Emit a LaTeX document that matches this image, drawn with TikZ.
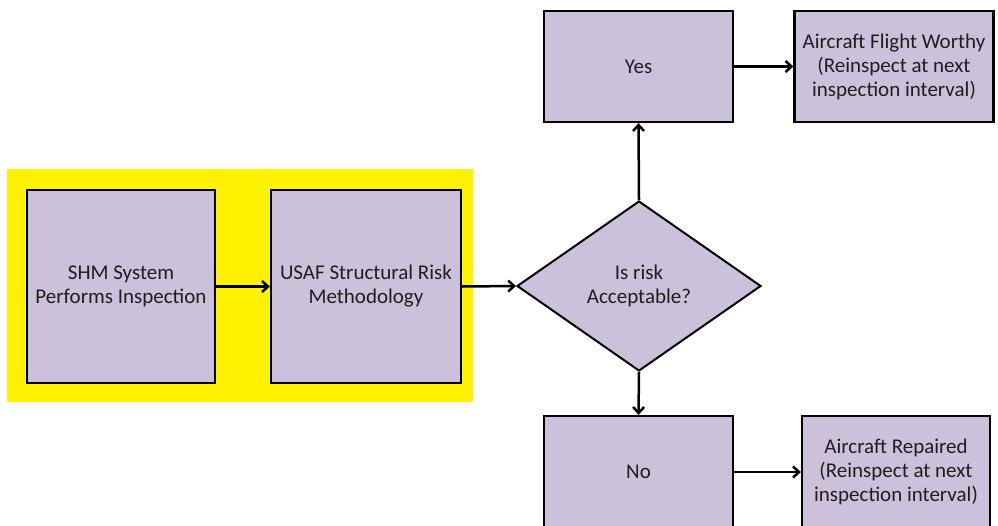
\documentclass[tikz,border=0pt]{standalone}
\usepackage{fontspec}
\setmainfont{Carlito}
\usetikzlibrary{shapes.geometric,arrows.meta}
\definecolor{boxfill}{RGB}{204,193,218}
\definecolor{txt}{RGB}{30,30,30}
\begin{document}
\begin{tikzpicture}[x=1pt,y=-1pt,
  box/.style={draw=black,line width=2.3pt,fill=boxfill,inner sep=0pt,align=center,
    text=txt,font=\fontsize{21}{24}\selectfont},
  decision/.style={diamond,draw=black,line width=2pt,fill=boxfill,inner sep=0pt,align=center,
    text=txt,font=\fontsize{21}{24}\selectfont},
  conn/.style={draw=black,line width=2.5pt,-{Straight Barb[length=6pt,width=11pt]}}]
\useasboundingbox (0,0) rectangle (998,525);
\fill[yellow] (7,169) rectangle (473,402);
\node[box,minimum width=188pt,minimum height=193pt] (shm) at (121,286.5) {SHM System\\Performs Inspection};
\node[box,minimum width=190pt,minimum height=193pt] (usaf) at (366,286.5) {USAF Structural Risk\\Methodology};
\node[decision,minimum width=244pt,minimum height=170pt] (dec) at (639,286) {Is risk\\Acceptable?};
\node[box,minimum width=189pt,minimum height=111pt] (yes) at (638.5,66.5) {Yes};
\node[box,minimum width=199pt,minimum height=111pt] (fw) at (894,66.5) {Aircraft Flight Worthy\\(Reinspect at next\\inspection interval)};
\node[box,minimum width=189pt,minimum height=112pt] (no) at (638.5,472) {No};
\node[box,minimum width=188pt,minimum height=112pt] (rep) at (896,472) {Aircraft Repaired\\(Reinspect at next\\inspection interval)};
\draw[conn] (shm.east) -- (usaf.west);
\draw[conn] (usaf.east) -- (dec.west);
\draw[conn] (dec.north) -- (yes.south);
\draw[conn] (dec.south) -- (no.north);
\draw[conn] (yes.east) -- (fw.west);
\draw[conn] (no.east) -- (rep.west);
\end{tikzpicture}
\end{document}
